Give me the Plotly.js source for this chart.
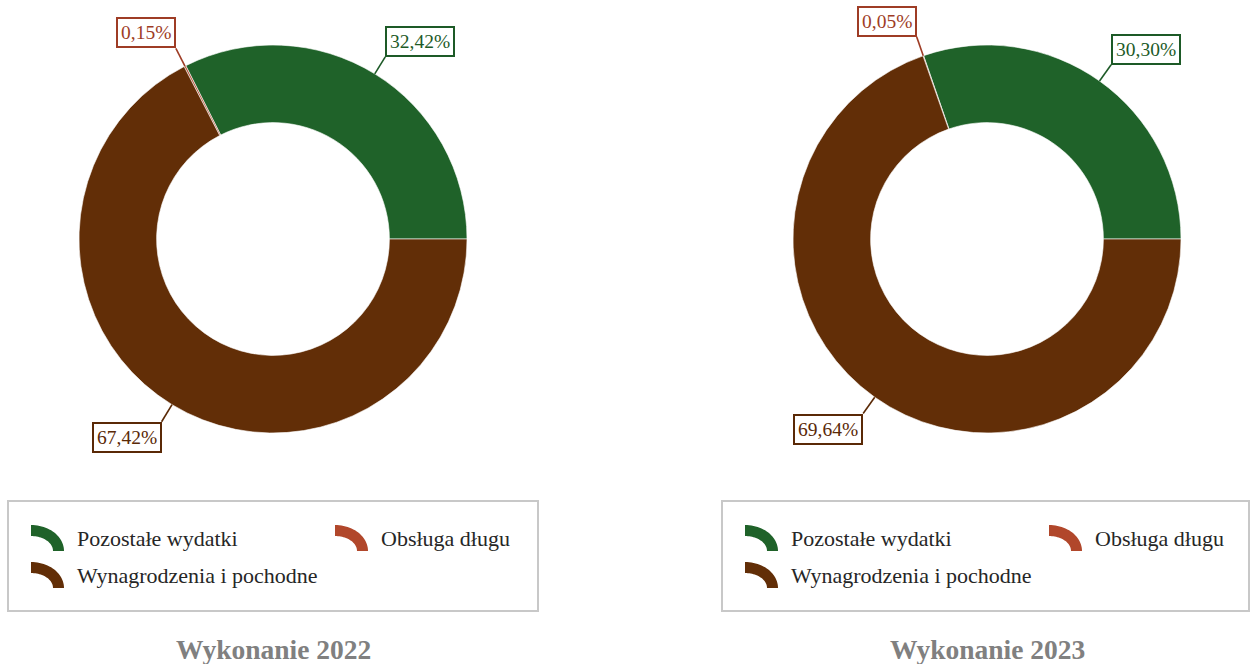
<!DOCTYPE html>
<html>
<head>
<meta charset="utf-8">
<script src="https://cdn.plot.ly/plotly-3.0.1.min.js"></script>
<style>html,body{margin:0;padding:0;background:#fff;}#chart{width:1250px;height:664px;}</style>
</head>
<body>
<div id="chart"></div>
<script>
// ---- data ----
const labels = ['Pozostałe wydatki', 'Obsługa długu', 'Wynagrodzenia i pochodne'];
const values2022 = [32.42, 0.15, 67.42];
const values2023 = [30.30, 0.05, 69.64];
const titles = ['Wykonanie 2022', 'Wykonanie 2023'];

// ---- style ----
const sliceColors = ['#1f6229', '#b1472b', '#622e07'];
const labelColors = ['#1d5a27', '#9e3c25', '#5a2906'];
const FONT = 'Liberation Serif, Times New Roman, serif';
const W = 1250, H = 664;
const R = 194, HOLE = 0.6, LEAD = 20;
const centers = [{cx: 273, cy: 239}, {cx: 987, cy: 239}];
const px = x => x / W;
const py = y => 1 - y / H;

const series = [values2022, values2023];
const traces = [], annotations = [], shapes = [];

series.forEach((vals, k) => {
  const {cx, cy} = centers[k];
  const total = vals.reduce((a, b) => a + b, 0);
  // first slice starts at 3 o'clock and runs counterclockwise
  const rot = 90 - 360 * vals[0] / total;
  traces.push({
    type: 'pie',
    values: vals,
    labels: labels,
    sort: false,
    direction: 'counterclockwise',
    rotation: rot,
    hole: HOLE,
    textinfo: 'none',
    hoverinfo: 'label+percent',
    showlegend: false,
    marker: {colors: sliceColors, line: {color: '#ffffff', width: 0.6}},
    domain: {x: [px(cx - R), px(cx + R)], y: [py(cy + R), py(cy - R)]}
  });

  // outside labels with leader lines, derived from values
  let cum = 0;
  vals.forEach((v, i) => {
    const mid = 2 * Math.PI * (cum + v / 2) / total;
    cum += v;
    const c = Math.cos(mid), s = Math.sin(mid);
    const ex = cx + R * c, ey = cy - R * s;
    const lx = cx + (R + LEAD) * c, ly = cy - (R + LEAD) * s;
    shapes.push({type: 'line', xref: 'paper', yref: 'paper',
      x0: px(ex), y0: py(ey), x1: px(lx), y1: py(ly),
      line: {color: labelColors[i], width: 1.6}});
    annotations.push({
      xref: 'paper', yref: 'paper', x: px(lx), y: py(ly),
      xanchor: c >= 0 ? 'left' : 'right', yanchor: s >= 0 ? 'bottom' : 'top',
      text: v.toFixed(2).replace('.', ',') + '%',
      showarrow: false, bgcolor: '#ffffff',
      bordercolor: labelColors[i], borderwidth: 2, borderpad: 3,
      font: {family: FONT, size: 19.5, color: labelColors[i]}
    });
  });

  // legend box
  const bx0 = cx - 265, bx1 = Math.min(cx + 265, W - 1), by0 = 501, by1 = 611;
  shapes.push({type: 'rect', xref: 'paper', yref: 'paper',
    x0: px(bx0), x1: px(bx1), y0: py(by1), y1: py(by0),
    line: {color: '#c8c8c8', width: 2}, fillcolor: 'rgba(0,0,0,0)'});

  labels.forEach((lab, i) => {
    const col = i % 2, row = Math.floor(i / 2);
    const ix = bx0 + 23 + col * 304;
    const iy = 525 + row * 37;
    const rx = 33, ry = 26, t = 11, n = 24;
    const pts = [];
    for (let j = 0; j <= n; j++) {
      const a = Math.PI / 2 - (Math.PI / 2) * j / n;
      pts.push([ix + rx * Math.cos(a), iy + ry - ry * Math.sin(a)]);
    }
    for (let j = n; j >= 0; j--) {
      const a = Math.PI / 2 - (Math.PI / 2) * j / n;
      pts.push([ix + (rx - t) * Math.cos(a), iy + ry - (ry - t) * Math.sin(a)]);
    }
    const path = pts.map((p, j) => (j ? 'L' : 'M') + px(p[0]).toFixed(5) + ',' + py(p[1]).toFixed(5)).join(' ') + ' Z';
    shapes.push({type: 'path', xref: 'paper', yref: 'paper', path: path,
      fillcolor: sliceColors[i], line: {width: 0}});
    annotations.push({xref: 'paper', yref: 'paper',
      x: px(ix + 44), y: py(iy + 13), xanchor: 'left', yanchor: 'middle',
      text: lab, showarrow: false,
      font: {family: FONT, size: 22, color: '#262626'}});
  });

  // chart caption
  annotations.push({xref: 'paper', yref: 'paper', x: px(cx), y: py(649),
    xanchor: 'center', yanchor: 'middle', text: titles[k], showarrow: false,
    font: {family: FONT, size: 27.5, color: '#808080', weight: 'bold'}});
});

const layout = {
  width: W, height: H,
  margin: {l: 0, r: 0, t: 0, b: 0},
  paper_bgcolor: '#ffffff',
  showlegend: false,
  annotations: annotations,
  shapes: shapes
};
Plotly.newPlot('chart', traces, layout, {displayModeBar: false, staticPlot: true});
</script>
</body>
</html>
